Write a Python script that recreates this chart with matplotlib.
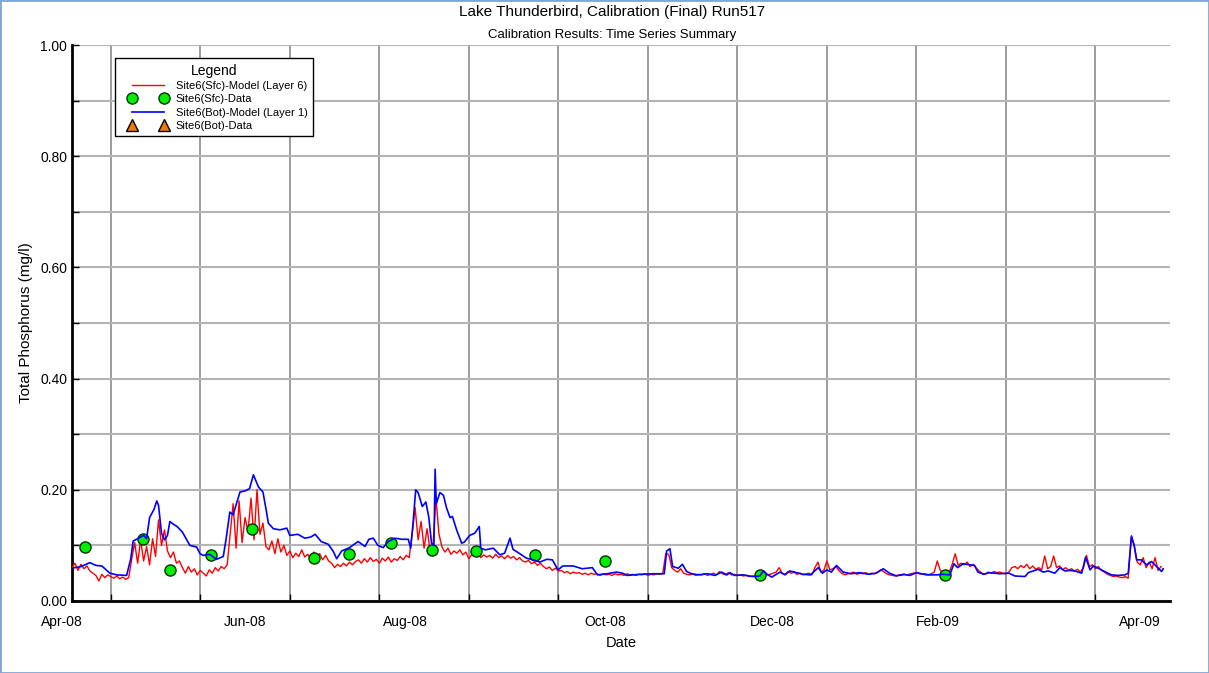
import numpy as np
import matplotlib
matplotlib.use('Agg')
from matplotlib import pyplot as plt
from matplotlib.lines import Line2D
from matplotlib.legend_handler import HandlerLine2D
from matplotlib.patches import Rectangle
from matplotlib.transforms import ScaledTranslation

# Site6(Sfc)-Model (Layer 6), one value per day from the first day of the axis
sfc_model = [
    0.060, 0.068, 0.055, 0.066, 0.058, 0.063, 0.054, 0.050, 0.046, 0.036,
    0.048, 0.042, 0.047, 0.044, 0.041, 0.045, 0.040, 0.043, 0.039, 0.042,
    0.075, 0.105, 0.068, 0.110, 0.072, 0.098, 0.065, 0.112, 0.080, 0.146,
    0.100, 0.128, 0.090, 0.078, 0.088, 0.068, 0.072, 0.060, 0.050, 0.062,
    0.052, 0.058, 0.047, 0.055, 0.050, 0.045, 0.056, 0.050, 0.060, 0.054,
    0.062, 0.058, 0.065, 0.120, 0.175, 0.095, 0.180, 0.105, 0.150, 0.125,
    0.185, 0.110, 0.200, 0.120, 0.140, 0.098, 0.092, 0.108, 0.085, 0.112,
    0.088, 0.100, 0.082, 0.090, 0.078, 0.086, 0.080, 0.092, 0.079, 0.084,
    0.076, 0.088, 0.080, 0.085, 0.074, 0.082, 0.072, 0.068, 0.060, 0.066,
    0.062, 0.068, 0.063, 0.070, 0.065, 0.071, 0.074, 0.068, 0.076, 0.070,
    0.078, 0.071, 0.075, 0.068, 0.077, 0.072, 0.079, 0.070, 0.076, 0.073,
    0.080, 0.074, 0.082, 0.078, 0.120, 0.168, 0.110, 0.143, 0.095, 0.130,
    0.092, 0.100, 0.184, 0.120, 0.097, 0.088, 0.095, 0.084, 0.090, 0.086,
    0.092, 0.083, 0.088, 0.076, 0.084, 0.080, 0.086, 0.078, 0.083, 0.079,
    0.082, 0.077, 0.084, 0.078, 0.081, 0.076, 0.082, 0.077, 0.080, 0.074,
    0.078, 0.072, 0.070, 0.073, 0.067, 0.070, 0.064, 0.068, 0.062, 0.058,
    0.061, 0.055, 0.059, 0.054, 0.055, 0.051, 0.053, 0.049, 0.052, 0.050,
    0.051, 0.048, 0.050, 0.047, 0.050, 0.048, 0.049, 0.046, 0.049, 0.047,
    0.048, 0.046, 0.049, 0.047, 0.048, 0.046, 0.049, 0.047, 0.048, 0.046,
    0.048, 0.047, 0.049, 0.046, 0.048, 0.047, 0.049, 0.048, 0.050, 0.085,
    0.084, 0.060, 0.055, 0.052, 0.058, 0.050, 0.048, 0.047, 0.049, 0.046,
    0.048, 0.047, 0.049, 0.046, 0.048, 0.050, 0.047, 0.053, 0.049, 0.047,
    0.051, 0.047, 0.048, 0.046, 0.047, 0.045, 0.046, 0.044, 0.045, 0.044,
    0.046, 0.052, 0.050, 0.047, 0.048, 0.050, 0.052, 0.060, 0.050, 0.048,
    0.053, 0.050, 0.052, 0.048, 0.050, 0.047, 0.049, 0.050, 0.047, 0.060,
    0.070, 0.052, 0.055, 0.072, 0.056, 0.058, 0.062, 0.055, 0.050, 0.047,
    0.049, 0.050, 0.052, 0.048, 0.050, 0.049, 0.051, 0.048, 0.050, 0.049,
    0.052, 0.056, 0.053, 0.049, 0.047, 0.046, 0.045, 0.047, 0.046, 0.048,
    0.047, 0.049, 0.050, 0.051, 0.049, 0.048, 0.049, 0.047, 0.049, 0.052,
    0.072, 0.055, 0.050, 0.048, 0.052, 0.066, 0.085, 0.064, 0.068, 0.065,
    0.070, 0.062, 0.066, 0.060, 0.054, 0.050, 0.048, 0.052, 0.050, 0.053,
    0.051, 0.052, 0.050, 0.049, 0.052, 0.060, 0.062, 0.058, 0.064, 0.060,
    0.066, 0.058, 0.063, 0.057, 0.060, 0.056, 0.081, 0.058, 0.062, 0.081,
    0.060, 0.063, 0.056, 0.060, 0.055, 0.058, 0.054, 0.057, 0.052, 0.060,
    0.082, 0.062, 0.065, 0.058, 0.062, 0.055, 0.052, 0.048, 0.046, 0.044,
    0.045, 0.043, 0.042, 0.044, 0.041, 0.115, 0.100, 0.070, 0.065, 0.078,
    0.060, 0.070, 0.058, 0.078, 0.055, 0.062,
]

# Site6(Bot)-Model (Layer 1), read at irregular days
bot_days = [
    0, 3, 6, 8, 10, 12.7, 15, 18.3, 19.7, 20.5, 22, 24, 25, 26, 27.5, 28.4,
    29, 30, 31, 32, 32.8, 34, 35.2, 37, 39.5, 41.8, 42.9, 44, 46.2, 48.4,
    50.7, 51.6, 52.9, 54, 56.3, 58, 59.5, 60.8, 62.5, 64, 65.2, 65.8, 67.5,
    69.7, 72, 73, 75.7, 78, 80, 81.5, 83.5, 85.9, 87.6, 88.7, 90.4, 93,
    95.9, 98.2, 99.5, 101, 102.5, 104.3, 106, 108.2, 110.5, 112.7, 113.5,
    114.3, 115.2, 116, 117.4, 118.6, 119.6, 120.5, 121.3, 121.7, 122.1,
    123.3, 124.5, 125.5, 126.7, 127.5, 128.9, 130.6, 131.5, 133.3, 135,
    136.5, 137, 138.5, 141.2, 143.4, 145, 146.8, 147.8, 150.1, 152.3, 154.6,
    156.8, 159.1, 161, 162.9, 164.5, 168, 171, 174.4, 176.1, 179.2, 182.5,
    184.5, 186, 190.3, 194.8, 198.5, 199.3, 200.4, 201.3, 203.2, 204.6, 206,
    207.7, 210, 213, 215.5, 217.7, 219.5, 220.5, 222, 225, 228, 230.5,
    231.7, 233, 234.5, 237.3, 239, 240.5, 242.9, 245, 247.5, 250.1, 251.5,
    253, 254.5, 256.2, 258.5, 261, 264, 267, 269.5, 271.9, 274, 276.4,
    278.5, 280.8, 283.1, 286.4, 289.8, 292, 294.2, 295.6, 296.8, 298.7,
    300.9, 302.5, 303.6, 305.5, 307.5, 309.2, 311, 314, 316, 319.4, 320.5,
    323.8, 325.5, 327.2, 329.4, 331.1, 332.8, 334.5, 336.1, 338.4, 339.7,
    341.2, 342.3, 343.9, 346.1, 348.4, 350.6, 352.9, 354.0, 355.1, 356.0,
    356.8, 358.4, 360.1, 361.8, 363.5, 365.2, 365.7,
]
bot_model = [
    0.059, 0.062, 0.069, 0.064, 0.063, 0.050, 0.047, 0.046, 0.076, 0.108,
    0.112, 0.118, 0.112, 0.150, 0.165, 0.180, 0.172, 0.122, 0.110, 0.118,
    0.143, 0.138, 0.134, 0.124, 0.100, 0.097, 0.085, 0.082, 0.084, 0.075,
    0.080, 0.110, 0.160, 0.155, 0.196, 0.198, 0.202, 0.227, 0.205, 0.196,
    0.160, 0.140, 0.130, 0.128, 0.131, 0.118, 0.120, 0.113, 0.115, 0.120,
    0.107, 0.102, 0.089, 0.076, 0.090, 0.096, 0.107, 0.098, 0.111, 0.113,
    0.100, 0.096, 0.107, 0.113, 0.111, 0.111, 0.095, 0.140, 0.200, 0.195,
    0.170, 0.178, 0.150, 0.104, 0.100, 0.237, 0.175, 0.195, 0.190, 0.168,
    0.150, 0.152, 0.128, 0.104, 0.106, 0.118, 0.122, 0.134, 0.095, 0.092,
    0.095, 0.083, 0.086, 0.113, 0.093, 0.085, 0.077, 0.074, 0.070, 0.075,
    0.074, 0.056, 0.063, 0.063, 0.058, 0.060, 0.047, 0.049, 0.052, 0.050,
    0.046, 0.048, 0.049, 0.049, 0.090, 0.094, 0.062, 0.059, 0.066, 0.053,
    0.049, 0.047, 0.049, 0.046, 0.052, 0.047, 0.051, 0.046, 0.047, 0.044,
    0.045, 0.054, 0.048, 0.043, 0.052, 0.047, 0.054, 0.051, 0.048, 0.047,
    0.060, 0.050, 0.056, 0.052, 0.064, 0.052, 0.049, 0.051, 0.048, 0.050,
    0.058, 0.050, 0.045, 0.048, 0.046, 0.051, 0.047, 0.047, 0.048, 0.047,
    0.067, 0.060, 0.067, 0.065, 0.064, 0.052, 0.048, 0.051, 0.050, 0.049,
    0.050, 0.045, 0.044, 0.051, 0.057, 0.052, 0.054, 0.050, 0.060, 0.054,
    0.055, 0.054, 0.050, 0.079, 0.056, 0.063, 0.059, 0.053, 0.047, 0.046,
    0.047, 0.050, 0.117, 0.100, 0.074, 0.074, 0.065, 0.071, 0.062, 0.053,
    0.058,
]

# Site6(Sfc)-Data samples
sfc_data_days = [4.4, 23.9, 32.8, 46.6, 60.4, 81.1, 92.9, 106.8, 120.5,
                 135.3, 155.1, 178.6, 230.6, 292.6]
sfc_data = [0.098, 0.111, 0.056, 0.082, 0.130, 0.078, 0.085, 0.105, 0.092,
            0.090, 0.082, 0.072, 0.047, 0.047]

# Site6(Bot)-Data: no samples in this period
bot_data_days = []
bot_data = []

month_labels = ['Apr-08', 'Jun-08', 'Aug-08', 'Oct-08', 'Dec-08', 'Feb-09', 'Apr-09']

plt.rcParams['font.family'] = ['Liberation Sans', 'DejaVu Sans']

fig = plt.figure(figsize=(12.09, 6.73), dpi=100)
ax = fig.add_axes([72/1209, 1 - 601/673, 1098/1209, 556/673])

sfc_days = np.arange(len(sfc_model))
ax.plot(sfc_days, sfc_model, color='#ff0000', lw=1.0, zorder=3)
ax.plot(sfc_data_days, sfc_data, 'o', color='#00ee00', mec='#003300',
        mew=1.0, ms=8, zorder=4)
ax.plot(bot_days, bot_model, color='#0000ff', lw=1.2, zorder=5)
ax.plot(bot_data_days, bot_data, '^', color='#f07800', mec='black',
        mew=1.0, ms=8, zorder=6)

ax.set_xlim(0, 368)
ax.set_ylim(0, 1.0)

# grid: every 30 days across, every 0.1 up
ax.set_xticks(np.arange(13, 368, 30))
ax.set_xticklabels([])
ax.set_yticks(np.arange(0, 1.01, 0.2))
ax.set_yticklabels(['%.2f' % v for v in np.arange(0, 1.01, 0.2)])
ax.set_yticks(np.arange(0.1, 1.0, 0.2), minor=True)
ax.tick_params(axis='both', which='both', direction='in', length=5,
               width=1, colors='black', labelsize=10)
ax.tick_params(axis='x', which='major', pad=0)

label_days = [0, 58, 111.6, 178.6, 234.6, 290.2, 357.9]
ax.set_xticks(label_days, month_labels, minor=True)
ax.tick_params(axis='x', which='minor', length=0, pad=10, labelsize=10)
first = ax.xaxis.get_minor_ticks()[0].label1
first.set_transform(first.get_transform() +
                    ScaledTranslation(-10/100, 0, fig.dpi_scale_trans))

ax.xaxis.grid(True, which='major', color='#8c8c8c', lw=1.2)
ax.yaxis.grid(True, which='both', color='#b4b4b4', lw=1.5)
ax.set_axisbelow(True)

for side in ['top', 'right']:
    ax.spines[side].set_visible(False)
for side in ['left', 'bottom']:
    ax.spines[side].set_linewidth(2)
    ax.spines[side].set_color('black')

ax.set_xlabel('Date', fontsize=10.5, labelpad=5)
ax.set_ylabel('Total Phosphorus (mg/l)', fontsize=11, labelpad=5)

fig.text(0.506, 1 - 12/673, 'Lake Thunderbird, Calibration (Final) Run517',
         ha='center', va='center', fontsize=11)
fig.text(0.506, 1 - 35/673, 'Calibration Results: Time Series Summary',
         ha='center', va='center', fontsize=9.5)

handles = [
    Line2D([], [], color='#ff0000', lw=1.0),
    Line2D([], [], marker='o', ls='', color='#00ee00', mec='#003300', mew=1.0, ms=8),
    Line2D([], [], color='#0000ff', lw=1.2),
    Line2D([], [], marker='^', ls='', color='#f07800', mec='black', mew=1.0, ms=8),
]
labels = ['Site6(Sfc)-Model (Layer 6)', 'Site6(Sfc)-Data',
          'Site6(Bot)-Model (Layer 1)', 'Site6(Bot)-Data']
leg = ax.legend(handles, labels, title='Legend', loc='upper left',
                bbox_to_anchor=((115 - 72)/1098, (601 - 58)/556),
                borderaxespad=0, numpoints=2, fontsize=8, title_fontsize=10,
                handlelength=4.9, handletextpad=0.05, borderpad=0.5,
                labelspacing=0.3, fancybox=False, framealpha=1,
                edgecolor='black',
                handler_map={Line2D: HandlerLine2D(marker_pad=1.0)})
leg.get_frame().set_linewidth(1.0)
leg.set_zorder(10)

fig.patches.append(Rectangle((0, 0), 1, 1, transform=fig.transFigure,
                             fill=False, edgecolor='#7ea6d8', lw=2))

fig.savefig('out.png', dpi=100)
